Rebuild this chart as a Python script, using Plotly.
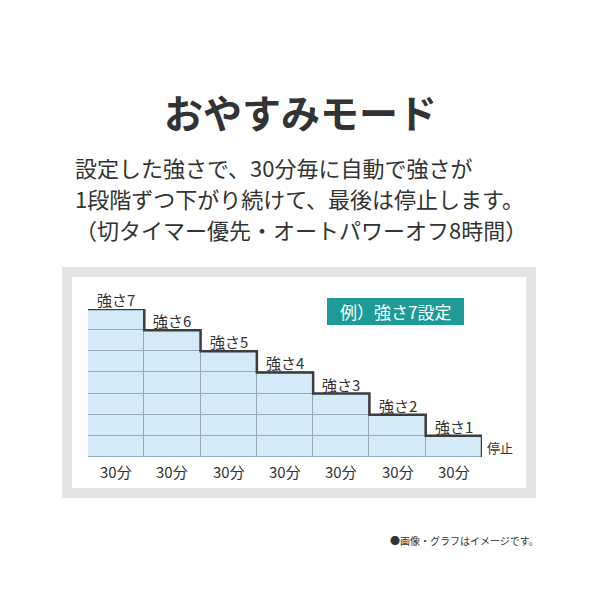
import plotly.graph_objects as go

# ---- data ----
levels = [7, 6, 5, 4, 3, 2, 1]
level_labels = ["強さ7", "強さ6", "強さ5", "強さ4", "強さ3", "強さ2", "強さ1"]
duration_labels = ["30分"] * 7
stop_label = "停止"
badge_text = "例）強さ7設定"
title_text = "おやすみモード"
body_lines = [
    "設定した強さで、30分毎に自動で強さが",
    "1段階ずつ下がり続けて、最後は停止します。",
    "（切タイマー優先・オートパワーオフ8時間）",
]
footnote = "●画像・グラフはイメージです。"

FONT = "Noto Sans CJK JP"
TXT = "#333333"
OFF = 8          # default page body margin
W = H = 600 - 2 * OFF


def px(x):
    return (x - OFF) / W


def py(y):
    return 1 - (y - OFF) / H


fig = go.Figure()

# grid cells (stacked unit segments inside each column)
cell_x, cell_base = [], []
for i, lv in enumerate(levels):
    for k in range(lv):
        cell_x.append(i + 0.5)
        cell_base.append(k)
fig.add_trace(go.Bar(
    x=cell_x, y=[1] * len(cell_x), base=cell_base, width=1,
    marker=dict(color="#d2ebf7", line=dict(color="#93aab6", width=1)),
    hoverinfo="skip", showlegend=False,
))

# step outline
step_x = list(range(len(levels) + 1))
step_y = levels + [0]
fig.add_trace(go.Scatter(
    x=step_x, y=step_y, mode="lines", line=dict(shape="hv", color="#3d3d3d", width=2.5),
    hoverinfo="skip", showlegend=False,
))

annotations = []
for i, (lv, lab) in enumerate(zip(levels, level_labels)):
    annotations.append(dict(x=i + 0.5, y=lv, xref="x", yref="y", text=lab, showarrow=False,
                            yanchor="bottom", yshift=-3, font=dict(family=FONT, size=15, color=TXT)))
for i, lab in enumerate(duration_labels):
    annotations.append(dict(x=i + 0.5, y=0, xref="x", yref="y", text=lab, showarrow=False,
                            yanchor="middle", yshift=-14, font=dict(family=FONT, size=15, color=TXT)))
annotations.append(dict(x=len(levels), y=0.45, xref="x", yref="y", text=stop_label, showarrow=False,
                        xanchor="left", xshift=3, font=dict(family=FONT, size=13, color=TXT)))

# title, body, badge, footnote
annotations.append(dict(x=px(300), y=py(111), xref="paper", yref="paper", text="<b>" + title_text + "</b>",
                        showarrow=False, xanchor="center", yanchor="middle",
                        font=dict(family=FONT, size=39, color=TXT)))
for yy, line in zip([167, 198, 229], body_lines):
    annotations.append(dict(x=px(73), y=py(yy), xref="paper", yref="paper", text=line,
                            showarrow=False, xanchor="left", yanchor="middle",
                            font=dict(family=FONT, size=22, color=TXT)))
annotations.append(dict(x=px(395.5), y=py(311.5), xref="paper", yref="paper", text=badge_text,
                        showarrow=False, xanchor="center", yanchor="middle",
                        font=dict(family=FONT, size=17, color="white")))
annotations.append(dict(x=px(541), y=py(540), xref="paper", yref="paper", text=footnote, showarrow=False,
                        xanchor="right", yanchor="middle", font=dict(family=FONT, size=10, color=TXT)))

shapes = [
    dict(type="rect", xref="paper", yref="paper", x0=px(62), x1=px(536), y0=py(498), y1=py(267),
         fillcolor="#e2e5e4", line=dict(width=0), layer="below"),
    dict(type="rect", xref="paper", yref="paper", x0=px(72), x1=px(526), y0=py(488), y1=py(277),
         fillcolor="white", line=dict(width=0), layer="below"),
    dict(type="rect", xref="paper", yref="paper", x0=px(327), x1=px(464), y0=py(325), y1=py(298),
         fillcolor="#1d9c97", line=dict(width=0), layer="below"),
]

fig.update_layout(
    width=W, height=H, margin=dict(l=0, r=0, t=0, b=0),
    paper_bgcolor="white", plot_bgcolor="rgba(0,0,0,0)",
    xaxis=dict(domain=[px(88), px(482)], range=[0, 7], visible=False, fixedrange=True),
    yaxis=dict(domain=[py(457), py(309)], range=[0, 7], visible=False, fixedrange=True),
    bargap=0, annotations=annotations, shapes=shapes, font=dict(family=FONT),
)

fig.write_html("out.html")
